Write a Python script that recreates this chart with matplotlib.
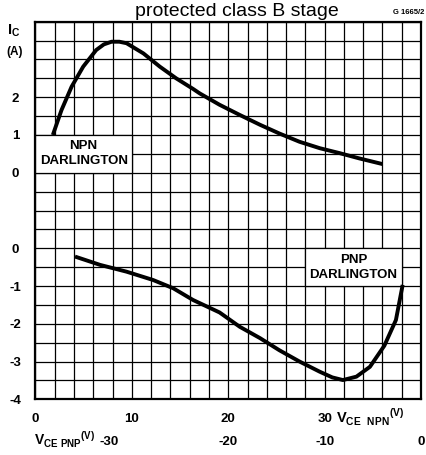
import matplotlib
matplotlib.use("Agg")
import matplotlib.pyplot as plt
from matplotlib.patches import Rectangle
from matplotlib.ticker import MultipleLocator
from matplotlib.transforms import blended_transform_factory

plt.rcParams['font.family'] = ['Liberation Sans', 'DejaVu Sans']
plt.rcParams['mathtext.fontset'] = 'custom'
plt.rcParams['mathtext.bf'] = 'Liberation Sans:bold'
plt.rcParams['mathtext.rm'] = 'Liberation Sans'

# NPN darlington, V_CE (V) against I_C (A)
vce_npn = [1.8, 2.7, 3.75, 4.95, 6.3, 7.1, 7.9, 8.7, 9.45, 11.2, 12.9, 14.6,
           16.35, 17.05, 19.1, 21.2, 23.3, 25.3, 27.4, 29.5, 31.55, 33.6, 36.0]
ic_npn = [1.0, 1.66, 2.28, 2.81, 3.25, 3.4, 3.47, 3.47, 3.43, 3.16, 2.81, 2.5,
          2.22, 2.1, 1.8, 1.53, 1.27, 1.04, 0.82, 0.65, 0.52, 0.38, 0.23]

# PNP darlington
vce_pnp = [-35.9, -33.3, -30.55, -27.8, -25.7, -23.65, -20.9, -18.8, -16.7,
           -14.7, -12.6, -10.5, -9.2, -8.1, -6.7, -5.3, -3.8, -2.6, -1.9]
ic_pnp = [-0.22, -0.44, -0.62, -0.84, -1.06, -1.37, -1.70, -2.08, -2.38,
          -2.70, -3.0, -3.27, -3.42, -3.49, -3.4, -3.14, -2.58, -1.9, -0.97]

npn_yticks = [2, 1, 0]
pnp_yticks = [0, -1, -2, -3, -4]
npn_xticks = [0, 10, 20, 30]
pnp_xticks = [-30, -20, -10, 0]

fig = plt.figure(figsize=(4.27, 4.55), dpi=100)
rect = [0.0831, 0.1224, 0.9028, 0.8299]

# lower axes: NPN scale + the grid
ax = fig.add_axes(rect)
ax.set_xlim(0, 40)
ax.set_ylim(-6, 4)
ax.xaxis.set_minor_locator(MultipleLocator(2))
ax.yaxis.set_minor_locator(MultipleLocator(0.5))
ax.set_xticks(npn_xticks)
ax.set_xticklabels([str(v) for v in npn_xticks])
ax.set_yticks(npn_yticks)
ax.set_yticklabels([str(v) for v in npn_yticks])
ax.grid(which='both', color='black', linewidth=0.9)
ax.tick_params(which='both', length=0)
ax.tick_params(axis='x', pad=9.5, labelsize=9.5)
ax.tick_params(axis='y', pad=14.4, labelsize=9.5)
for lbl in ax.get_xticklabels() + ax.get_yticklabels():
    lbl.set_fontweight('bold')
for lbl in ax.get_yticklabels():
    lbl.set_horizontalalignment('center')
for sp in ax.spines.values():
    sp.set_linewidth(1.6)

ax.add_patch(Rectangle((0, 0), 10, 1, facecolor='white', edgecolor='black',
                       linewidth=0.9, zorder=2.5))
ax.text(5, 0.5, 'NPN\nDARLINGTON', ha='center', va='center', fontsize=9.5,
        fontweight='bold', linespacing=1.35, zorder=3)
ax.plot(vce_npn, ic_npn, color='black', linewidth=2.8,
        solid_capstyle='butt', solid_joinstyle='round', zorder=4)

# upper axes: PNP scale
ax2 = fig.add_axes(rect)
ax2.patch.set_visible(False)
ax2.set_xlim(-40, 0)
ax2.set_ylim(-4, 6)
ax2.set_xticks([])
ax2.set_yticks(pnp_yticks)
ax2.set_yticklabels([str(v) for v in pnp_yticks])
ax2.tick_params(which='both', length=0)
ax2.tick_params(axis='y', pad=14.4, labelsize=9.5)
for lbl in ax2.get_yticklabels():
    lbl.set_fontweight('bold')
    lbl.set_horizontalalignment('center')
for sp in ax2.spines.values():
    sp.set_visible(False)

ax2.add_patch(Rectangle((-12, -1), 10, 1, facecolor='white',
                        edgecolor='black', linewidth=0.9, zorder=2.5))
ax2.text(-7, -0.5, 'PNP\nDARLINGTON', ha='center', va='center', fontsize=9.5,
         fontweight='bold', linespacing=1.35, zorder=3)
ax2.plot(vce_pnp, ic_pnp, color='black', linewidth=2.8,
         solid_capstyle='butt', solid_joinstyle='round', zorder=4)

# second row of x labels (PNP voltage)
tr = blended_transform_factory(ax2.transData, ax2.transAxes)
for v in pnp_xticks:
    xpos = v - 2.4 if v == -30 else v
    ax2.text(xpos, -0.113, str(v), transform=tr, ha='center', va='center',
             fontsize=9.5, fontweight='bold')

fig.text(0.080, 1 - 440 / 455,
         r'$\mathbf{V}_{\mathbf{CE\ PNP}}{}^{\mathbf{(V)}}$',
         ha='left', va='center', fontsize=10)
fig.text(0.787, 1 - 417 / 455,
         r'$\mathbf{V}_{\mathbf{CE}\ \ \mathbf{NPN}}{}^{\mathbf{(V)}}$',
         ha='left', va='center', fontsize=10.5)
fig.text(0.032, 1 - 31 / 455, r'$\mathbf{I}_{\mathbf{C}}$', ha='center',
         va='center', fontsize=10.5)
fig.text(0.035, 1 - 52 / 455, '(A)', ha='center', va='center', fontsize=8.5,
         fontweight='bold')

fig.text(0.554, 1 - 16 / 455, 'protected class B stage', ha='center',
         va='baseline', fontsize=14)
fig.text(0.995, 1 - 12 / 455, 'G 1665/2', ha='right', va='center',
         fontsize=5.5, fontweight='bold')

fig.savefig('out.png', dpi=100)
